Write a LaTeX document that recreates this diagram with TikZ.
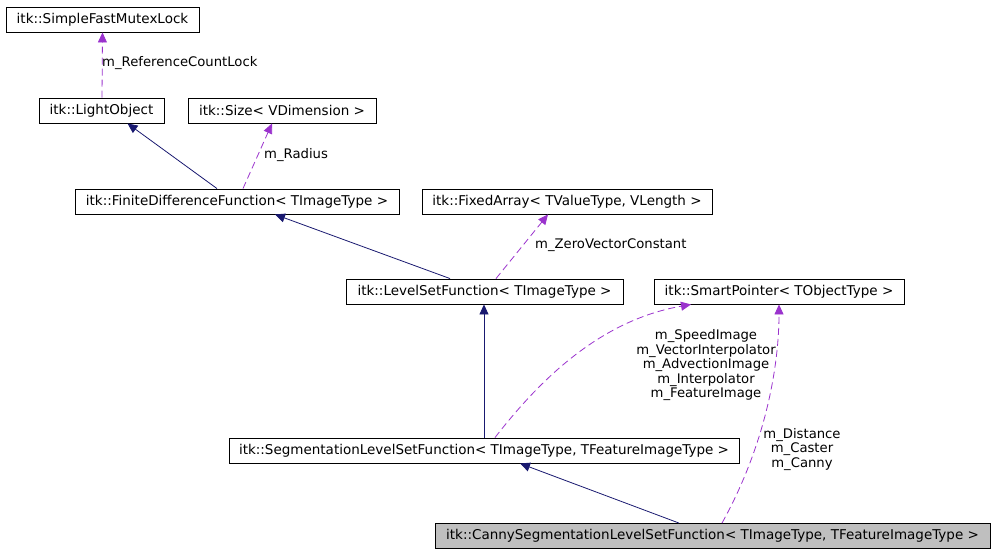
\documentclass[tikz,border=0pt]{standalone}
\usepackage{fontspec}
\setmainfont{DejaVu Sans}
\usetikzlibrary{arrows.meta}
\definecolor{navyc}{HTML}{191970}
\definecolor{purp}{HTML}{9A32CD}
\definecolor{grayfill}{HTML}{BFBFBF}
\begin{document}
\begin{tikzpicture}[x=1pt,y=-1pt,
  cls/.style={draw=black,line width=0.9pt,fill=white,inner sep=0pt,minimum height=25pt,font=\fontsize{13.5}{14.5}\selectfont},
  inh/.style={draw=navyc,line width=0.8pt,-{Triangle[length=10pt,width=9pt]}},
  use/.style={draw=purp,line width=0.8pt,dash pattern=on 7pt off 4pt,-{Triangle[length=10pt,width=9pt]}},
  lbl/.style={inner sep=0pt,align=center,font=\fontsize{13.2}{14.5}\selectfont}]
\useasboundingbox (0,0) rectangle (995,555);
\node[cls,minimum width=193pt] (mutex) at (102.5,19.5) {itk::SimpleFastMutexLock};
\node[cls,minimum width=125pt] (light) at (101.5,110.5) {itk::LightObject};
\node[cls,minimum width=188pt] (size) at (282,110.5) {itk::Size< VDimension >};
\node[cls,minimum width=324pt] (fdf) at (237,201.5) {itk::FiniteDifferenceFunction< TImageType >};
\node[cls,minimum width=290pt] (fixed) at (567,201.5) {itk::FixedArray< TValueType, VLength >};
\node[cls,minimum width=277pt] (lsf) at (484.5,291.5) {itk::LevelSetFunction< TImageType >};
\node[cls,minimum width=250pt] (smart) at (779,291.5) {itk::SmartPointer< TObjectType >};
\node[cls,minimum width=510pt] (slsf) at (484,450.5) {itk::SegmentationLevelSetFunction< TImageType, TFeatureImageType >};
\node[cls,minimum width=555pt,fill=grayfill] (canny) at (712.5,536) {itk::CannySegmentationLevelSetFunction< TImageType, TFeatureImageType >};

\draw[use] ([xshift=0.5pt]light.north) -- (mutex.south);
\node[lbl,anchor=west] (l1) at (102,63) {m\_ReferenceCountLock};
\draw[inh] ([xshift=-20pt]fdf.north) -- ([xshift=26pt]light.south);
\draw[use] ([xshift=6pt]fdf.north) -- ([xshift=-10pt]size.south);
\node[lbl,anchor=west] (l2) at (264,155) {m\_Radius};
\draw[inh] ([xshift=-34.5pt]lsf.north) -- ([xshift=38pt]fdf.south);
\draw[use] ([xshift=11.5pt]lsf.north) -- ([xshift=-19pt]fixed.south);
\node[lbl,anchor=west] (l3) at (535,245) {m\_ZeroVectorConstant};
\draw[inh] (slsf.north) -- ([xshift=-0.5pt]lsf.south);
\draw[use] ([xshift=11pt]slsf.north) .. controls +(45,-58) and +(-91,16) .. ([xshift=-88pt]smart.south);
\node[lbl] (l4) at (706,365.5) {m\_SpeedImage\\m\_VectorInterpolator\\m\_AdvectionImage\\m\_Interpolator\\m\_FeatureImage};
\draw[inh] ([xshift=-33.5pt]canny.north) -- ([xshift=36pt]slsf.south);
\draw[use] ([xshift=9.5pt]canny.north) .. controls +(46,-83) and +(0,56) .. (smart.south);
\node[lbl] (l5) at (802,449.5) {m\_Distance\\m\_Caster\\m\_Canny};
\end{tikzpicture}
\end{document}
